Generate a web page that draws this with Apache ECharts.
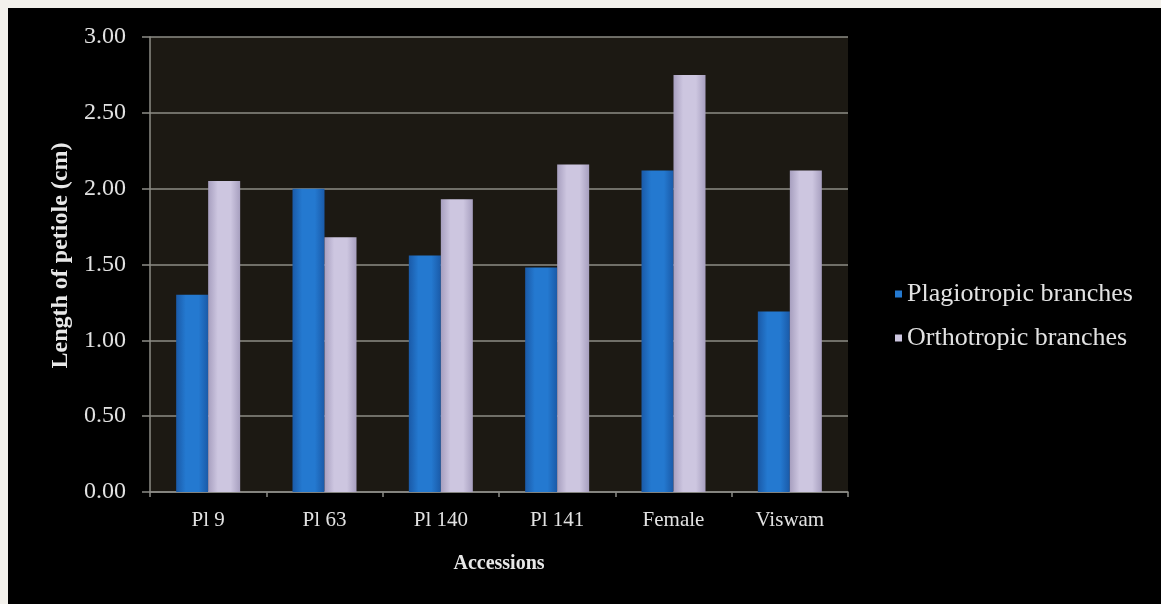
<!DOCTYPE html>
<html><head><meta charset="utf-8">
<script src="https://cdn.jsdelivr.net/npm/echarts@6/dist/echarts.min.js"></script>
<style>
html,body{margin:0;padding:0;background:#f3f1ec;width:1161px;height:604px;overflow:hidden}
#chart{position:absolute;left:8px;top:8px;width:1153px;height:596px;background:#000}
</style></head><body>
<div id="chart"></div>
<script>
const categories = ['Pl 9', 'Pl 63', 'Pl 140', 'Pl 141', 'Female', 'Viswam'];
const plagiotropic = [1.30, 2.00, 1.56, 1.48, 2.12, 1.19];
const orthotropic = [2.05, 1.68, 1.93, 2.16, 2.75, 2.12];
const yTicks = [0, 0.5, 1, 1.5, 2, 2.5, 3];

const chart = echarts.init(document.getElementById('chart'));
const font = '"Liberation Serif", "Times New Roman", serif';
const blueGrad = new echarts.graphic.LinearGradient(0,0,1,0,[
  {offset:0,color:'#1a5aa8'},{offset:0.3,color:'#2479d0'},{offset:0.7,color:'#2479d0'},{offset:1,color:'#1a5aa8'}]);
const lavGrad = new echarts.graphic.LinearGradient(0,0,1,0,[
  {offset:0,color:'#a79fbf'},{offset:0.3,color:'#cdc6e0'},{offset:0.7,color:'#cdc6e0'},{offset:1,color:'#a79fbf'}]);
chart.setOption({
  backgroundColor:'#000',
  animation:false,
  grid:{left:142,top:29,width:698,height:455,show:true,backgroundColor:'#1c1913',borderWidth:0},
  legend:{
    orient:'vertical',left:882,top:268,itemWidth:7,itemHeight:7,itemGap:18,icon:'rect',
    textStyle:{color:'#e2e2e2',fontFamily:font,fontSize:26},
    data:[{name:'Plagiotropic branches',itemStyle:{color:'#2479d0'}},{name:'Orthotropic branches',itemStyle:{color:'#cdc6e0'}}]
  },
  xAxis:{
    type:'category',data:categories,
    name:'Accessions',nameLocation:'middle',nameGap:62,
    nameTextStyle:{color:'#e8e8e8',fontFamily:font,fontSize:20,fontWeight:'bold'},
    axisLine:{lineStyle:{color:'#8c8c86',width:1.5}},
    axisTick:{show:true,length:5,lineStyle:{color:'#8c8c86',width:1.5}},
    axisLabel:{color:'#e2e2e2',fontFamily:font,fontSize:21,margin:18}
  },
  yAxis:{
    type:'value',min:0,max:3,interval:0.5,
    name:'Length of petiole (cm)',nameLocation:'middle',nameGap:76,
    nameTextStyle:{color:'#e8e8e8',fontFamily:font,fontSize:24,fontWeight:'bold',padding:[0,0,0,18]},
    axisLine:{show:true,lineStyle:{color:'#8c8c86',width:1.5}},
    axisTick:{show:true,length:8,lineStyle:{color:'#8c8c86',width:1.5}},
    splitLine:{lineStyle:{color:'#8c8c86',width:1.5}},
    axisLabel:{color:'#e2e2e2',fontFamily:font,fontSize:24,margin:24,formatter:v=>v.toFixed(2)}
  },
  series:[
    {name:'Plagiotropic branches',type:'bar',data:plagiotropic,barWidth:32,barGap:'0%',
     itemStyle:{color:blueGrad}},
    {name:'Orthotropic branches',type:'bar',data:orthotropic,barWidth:32,barGap:'0%',
     itemStyle:{color:lavGrad}}
  ]
});
</script></body></html>
